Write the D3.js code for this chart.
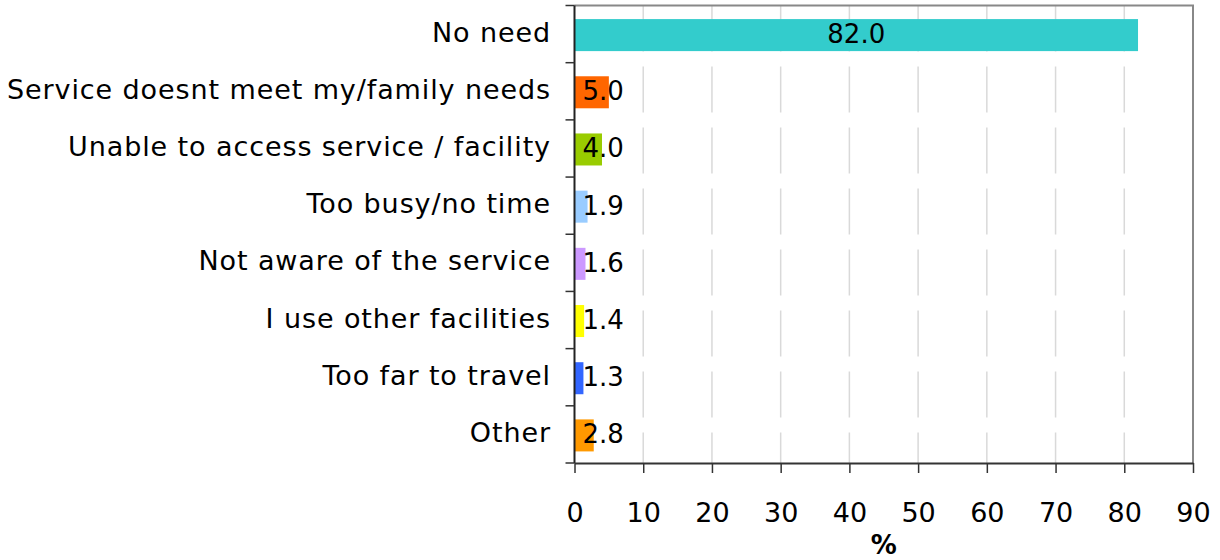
<!DOCTYPE html>
<html><head><meta charset="utf-8">
<script src="https://cdn.jsdelivr.net/npm/d3@7"></script>
<style>
html,body{margin:0;padding:0;background:#fff;}
svg text{font-family:"DejaVu Sans",sans-serif;fill:#000;}
</style></head>
<body><svg id="c" width="1220" height="560"></svg>
<script>
const categories = ["No need","Service doesnt meet my/family needs","Unable to access service / facility","Too busy/no time","Not aware of the service","I use other facilities","Too far to travel","Other"];
const values = [82.0,5.0,4.0,1.9,1.6,1.4,1.3,2.8];
const colors = ["#33CCCC","#FF6600","#99CC00","#99CCFF","#CC99FF","#FFFF00","#3366FF","#FF9900"];
const xTicks = [0,10,20,30,40,50,60,70,80,90];
const xTitle = "%";

const svg = d3.select("#c");
const L = 574.5, R = 1193, T = 5.5, B = 463;
const FS = 26;
const x = d3.scaleLinear().domain([0,90]).range([L,R]);
const y = d3.scaleBand().domain(categories).range([T,B]).paddingInner(0.44).paddingOuter(0.22);
const band = d3.scaleBand().domain(categories).range([T,B]);

// gridlines
svg.append("g").selectAll("line").data(xTicks.slice(1,-1)).join("line")
  .attr("x1",d=>x(d)).attr("x2",d=>x(d)).attr("y1",T).attr("y2",B)
  .attr("stroke","#d9d9d9").attr("stroke-width",1.5).attr("stroke-dasharray","46,15");

// border top/right
svg.append("path").attr("d",`M${L},${T}H${R}V${B}`).attr("fill","none")
  .attr("stroke","#888").attr("stroke-width",2);

// bars
svg.append("g").selectAll("rect").data(values).join("rect")
  .attr("x",x(0)).attr("y",(d,i)=>y(categories[i])+1)
  .attr("width",d=>x(d)-x(0)).attr("height",y.bandwidth())
  .attr("fill",(d,i)=>colors[i]);

// left axis
const ya = svg.append("g").attr("transform",`translate(${L},0)`);
ya.append("line").attr("x1",0).attr("x2",0).attr("y1",T).attr("y2",B).attr("stroke","#222").attr("stroke-width",2);
ya.selectAll(".bt").data(d3.range(categories.length+1)).join("line")
  .attr("x1",-9).attr("x2",0).attr("y1",i=>T+i*band.step()).attr("y2",i=>T+i*band.step())
  .attr("stroke","#333").attr("stroke-width",1.5);

// category labels
svg.append("g").selectAll("text").data(categories).join("text")
  .attr("x",551).attr("y",d=>band(d)+band.bandwidth()/2-2)
  .attr("text-anchor","end").attr("dominant-baseline","central")
  .style("font-size","27px").style("letter-spacing","0.9px").text(d=>d);

// bottom axis
const xa = svg.append("g").attr("transform",`translate(0,${B})`)
  .call(d3.axisBottom(x).tickValues(xTicks).tickSize(10).tickSizeOuter(0).tickPadding(30));
xa.select(".domain").attr("stroke","#333").attr("stroke-width",2);
xa.selectAll(".tick line").attr("stroke","#333").attr("stroke-width",1.5);
xa.selectAll(".tick text").style("font-size","27px").style("font-family",'"DejaVu Sans",sans-serif').attr("fill","#000");

svg.append("text").attr("x",(L+R)/2).attr("y",554).attr("text-anchor","middle")
  .style("font-size","26px").style("font-weight","bold").text(xTitle);

// value labels
const vl = svg.append("g").selectAll("text").data(values).join("text")
  .attr("y",(d,i)=>band(categories[i])+band.bandwidth()/2)
  .attr("dominant-baseline","central").attr("text-anchor","start")
  .style("font-size",FS+"px").text(d=>d.toFixed(1));
vl.each(function(d){
  const w = this.getComputedTextLength();
  const cx = (x(0)+x(d))/2;
  d3.select(this).attr("x", Math.max(cx - w/2, L+8));
});
</script></body></html>
